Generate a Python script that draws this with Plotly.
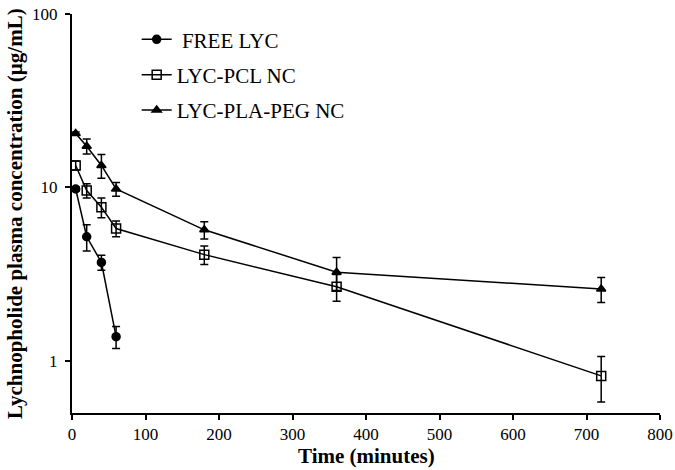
import plotly.graph_objects as go

time_free = [5, 20, 40, 60]
free_lyc = [9.8, 5.2, 3.7, 1.38]
free_err = [0.3, 0.9, 0.37, 0.2]

time_nc = [5, 20, 40, 60, 180, 360, 720]
pcl_nc = [13.4, 9.6, 7.7, 5.8, 4.1, 2.68, 0.82]
pcl_err = [0.8, 0.9, 1.0, 0.6, 0.5, 0.47, 0.24]
peg_nc = [20.5, 17.3, 13.4, 9.8, 5.7, 3.25, 2.6]
peg_err = [0.4, 1.7, 2.1, 0.9, 0.65, 0.7, 0.43]

x_ticks = [0, 100, 200, 300, 400, 500, 600, 700, 800]
y_ticks = [1, 10, 100]

font_family = "Liberation Serif"

fig = go.Figure()

def add(name, x, y, err, symbol, size):
    fig.add_trace(go.Scatter(
        x=x, y=y, name=name, mode="lines+markers", legendgroup=name,
        line=dict(color="black", width=1.5),
        marker=dict(symbol=symbol, size=size, color="black",
                    line=dict(color="black", width=1.5)),
        error_y=dict(type="data", array=err, visible=True,
                     color="black", thickness=1.5, width=4),
    ))

add(" FREE LYC", time_free, free_lyc, free_err, "circle", 8)
add("LYC-PCL NC", time_nc, pcl_nc, pcl_err, "square-open", 9)
add("LYC-PLA-PEG NC", time_nc, peg_nc, peg_err, "triangle-up", 8)

fig.update_layout(
    width=675, height=470,
    margin=dict(l=72, r=15, t=14, b=57, autoexpand=False),
    paper_bgcolor="white", plot_bgcolor="white",
    font=dict(family=font_family, size=16, color="black"),
    showlegend=True,
    legend=dict(x=0.11, y=0.987, xanchor="left", yanchor="top",
                bgcolor="rgba(0,0,0,0)", font=dict(size=21, family=font_family),
                itemwidth=30, tracegroupgap=5),
    xaxis=dict(
        range=[0, 800], tickvals=x_ticks, showline=True, linecolor="black",
        linewidth=2, ticks="outside", ticklen=5, tickwidth=1.5, tickcolor="black",
        showgrid=False, zeroline=False, automargin=False,
        tickfont=dict(size=17, family=font_family),
    ),
    yaxis=dict(
        type="log", range=[-0.3, 2], tickvals=y_ticks, ticktext=["1", "10", "100"],
        showline=True, linecolor="black", linewidth=2, ticks="outside",
        ticklen=5, tickwidth=1.5, tickcolor="black", showgrid=False, zeroline=False,
        automargin=False, ticklabelstandoff=4,
        tickfont=dict(size=17, family=font_family),
    ),
    annotations=[
        dict(text="<b>Time (minutes)</b>", xref="paper", yref="paper",
             x=0.5, y=-0.073, xanchor="center", yanchor="top", showarrow=False,
             font=dict(size=21, family=font_family)),
        dict(text="<b>Lychnopholide plasma concentration (µg/mL)</b>",
             xref="paper", yref="paper", x=-0.098, y=0.5, xanchor="center",
             yanchor="middle", textangle=-90, showarrow=False,
             font=dict(size=21, family=font_family)),
    ],
)

fig.write_html("out.html", config={"displayModeBar": False},
               post_script="document.body.style.margin='0';")
